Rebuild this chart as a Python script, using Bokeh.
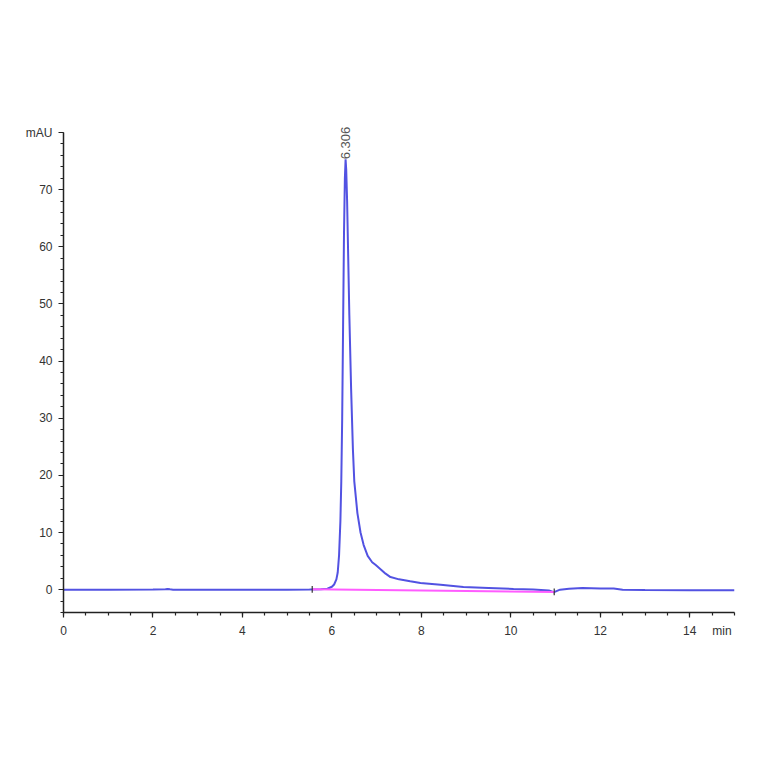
import math
from bokeh.plotting import figure
from bokeh.models import Range1d, FixedTicker, LinearAxis, ColumnDataSource
from bokeh.core.properties import value
from bokeh.embed import file_html
from bokeh.resources import INLINE

# Chromatogram signal (min, mAU)
time_min = [0.0, 1.0, 2.0, 2.28, 2.33, 2.38, 2.45, 3.0, 4.0, 5.0, 5.5, 5.75, 5.9, 6.0, 6.05,
            6.1, 6.13, 6.16, 6.19, 6.21, 6.23, 6.25, 6.27, 6.29, 6.306, 6.32, 6.34, 6.36,
            6.39, 6.43, 6.47, 6.5, 6.57, 6.64, 6.71, 6.8, 6.9, 6.98, 7.1, 7.2, 7.31, 7.5,
            7.75, 7.98, 8.43, 8.94, 9.5, 10.06, 10.5, 10.85, 10.96, 11.02, 11.1, 11.3, 11.6,
            12.0, 12.3, 12.5, 13.0, 14.0, 15.0]
signal_mau = [0.0, 0.0, 0.02, 0.05, 0.12, 0.05, 0.0, 0.0, 0.0, 0.0, 0.02, 0.05, 0.15, 0.5, 0.9,
              1.8, 3.0, 6.0, 12.0, 19.0, 30.0, 46.0, 62.0, 72.0, 75.3, 73.5, 68.0, 60.0,
              48.0, 35.0, 24.5, 19.0, 13.4, 10.0, 7.8, 5.9, 4.8, 4.3, 3.5, 2.8, 2.2, 1.8,
              1.45, 1.15, 0.85, 0.47, 0.3, 0.12, 0.02, -0.15, -0.45, -0.25, 0.0, 0.15, 0.3,
              0.2, 0.2, 0.0, -0.05, -0.1, -0.1]

# Integration baseline (start/end)
base_t = [5.56, 10.97]
base_v = [0.05, -0.4]

peak_t = [6.306]
peak_v = [75.3]
peak_label = ["6.306"]

x_ticks = [0, 2, 4, 6, 8, 10, 12, 14]
x_unit_pos = 14.72
x_unit = "min"
y_ticks = [0, 10, 20, 30, 40, 50, 60, 70, 80]
y_unit = "mAU"
x_minor = [i * 0.5 for i in range(31)]
y_minor = [v for v in range(-4, 81, 2)]

FONT = "Liberation Sans"
INK = "#222222"
LABEL_INK = "#333333"

p = figure(width=748, height=748, output_backend="svg", toolbar_location=None,
           x_range=Range1d(0, 15), y_range=Range1d(-4, 81.75),
           frame_width=671, frame_height=490,
           min_border_left=63, min_border_right=14, min_border_top=122, min_border_bottom=136)
p.outline_line_color = None
p.grid.grid_line_color = None
p.background_fill_color = "white"
p.border_fill_color = "white"

for ax in (p.xaxis[0], p.yaxis[0]):
    ax.axis_line_color = INK
    ax.axis_line_width = 1.5
    ax.major_tick_line_color = INK
    ax.minor_tick_line_color = INK
    ax.major_tick_line_width = 1.2
    ax.minor_tick_line_width = 1.2
    ax.major_tick_out = 5
    ax.major_tick_in = 0
    ax.minor_tick_out = 3
    ax.minor_tick_in = 0
    ax.major_label_text_font = FONT
    ax.major_label_text_font_size = "12px"
    ax.major_label_text_color = LABEL_INK

# x axis: tick marks only (labels come from a second, line-less axis)
p.xaxis[0].ticker = FixedTicker(ticks=x_ticks, minor_ticks=x_minor)
p.xaxis[0].major_label_overrides = {t: "" for t in x_ticks}
p.xaxis[0].major_label_standoff = 0

lab_ax = LinearAxis(ticker=FixedTicker(ticks=x_ticks + [x_unit_pos], minor_ticks=[]),
                    major_label_overrides={x_unit_pos: x_unit})
lab_ax.axis_line_color = None
lab_ax.major_tick_line_color = None
lab_ax.minor_tick_line_color = None
lab_ax.major_tick_out = 0
lab_ax.major_tick_in = 0
lab_ax.minor_tick_out = 0
lab_ax.minor_tick_in = 0
lab_ax.major_label_standoff = 6
lab_ax.major_label_text_font = FONT
lab_ax.major_label_text_font_size = "12px"
lab_ax.major_label_text_color = LABEL_INK
p.add_layout(lab_ax, "below")

p.yaxis[0].ticker = FixedTicker(ticks=y_ticks, minor_ticks=y_minor)
p.yaxis[0].bounds = (-4, 80)
p.yaxis[0].major_label_overrides = {80: y_unit}
p.yaxis[0].major_label_standoff = 6

src = ColumnDataSource(dict(t=time_min, v=signal_mau))
p.line("t", "v", source=src, line_color="#5252e2", line_width=2.0)

p.line(base_t, base_v, line_color="#ff5cff", line_width=2.0)
p.segment(x0=base_t, y0=[b - 0.6 for b in base_v], x1=base_t, y1=[b + 0.6 for b in base_v],
          line_color="#333333", line_width=1.2)

p.text(x=peak_t, y=peak_v, text=peak_label, angle=math.pi / 2,
       text_font=value(FONT), text_font_size="13px", text_color="#555555",
       text_align="left", text_baseline="middle", y_offset=0)

open("out.html", "w").write(file_html(p, INLINE))
